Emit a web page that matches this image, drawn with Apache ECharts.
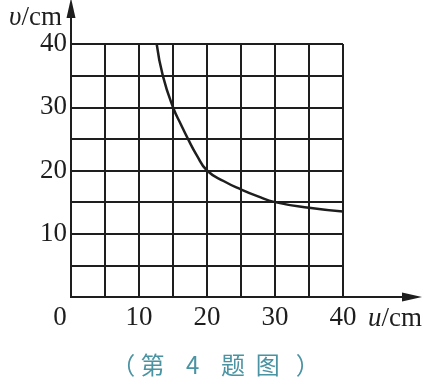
<!DOCTYPE html>
<html>
<head>
<meta charset="utf-8">
<script src="https://cdn.jsdelivr.net/npm/echarts@6/dist/echarts.min.js"></script>
<style>
html,body{margin:0;padding:0;background:#fff;}
#c{width:431px;height:389px;}
</style>
</head>
<body>
<div id="c"></div>
<script>
// data
const uValues = [12.6, 13.5, 15, 16.2, 17.2, 18.5, 20, 22.5, 25, 27.5, 30, 35, 40];
const vValues = [40, 35, 30, 27.2, 25, 22.4, 20, 18.3, 17, 15.9, 15, 14.1, 13.5];
const xTickLabels = [0, 10, 20, 30, 40];
const yTickLabels = [10, 20, 30, 40];
const caption = '（ 第    4    题  图   ）';

const ink = '#1e1e1e';
const serif = '"Liberation Serif", "DejaVu Serif", serif';
const curve = uValues.map((u, i) => [u, vValues[i]]);

const chart = echarts.init(document.getElementById('c'), null, {renderer: 'canvas'});
chart.setOption({
  animation: false,
  backgroundColor: '#fff',
  grid: [
    {left: 71, right: 88, top: 44, bottom: 92},
    {left: 71, right: 19, top: 8, bottom: 92}
  ],
  xAxis: [
    {
      gridIndex: 0, type: 'value', min: 0, max: 40, interval: 5,
      axisLine: {show: true, lineStyle: {color: ink, width: 2}},
      axisTick: {show: false},
      splitLine: {show: true, lineStyle: {color: ink, width: 2}},
      axisLabel: {
        margin: 7, color: ink, fontFamily: serif, fontSize: 27,
        formatter: v => v === 0 ? '{o|0}' : (xTickLabels.includes(v) ? String(v) : ''),
        rich: {o: {fontFamily: serif, fontSize: 27, color: ink, padding: [0, 22, 0, 0]}}
      },
      name: '{i|u}/cm', nameLocation: 'end', nameGap: 25,
      nameTextStyle: {
        align: 'left', verticalAlign: 'top', padding: [8, 0, 0, 0],
        color: ink, fontFamily: serif, fontSize: 27,
        rich: {i: {fontStyle: 'italic', fontFamily: serif, fontSize: 27, color: ink}}
      }
    },
    {
      gridIndex: 1, type: 'value', min: 0, max: 50.1,
      axisLine: {show: true, symbol: ['none', 'triangle'], symbolSize: [9, 20], lineStyle: {color: ink, width: 2}},
      axisTick: {show: false}, axisLabel: {show: false}, splitLine: {show: false}
    }
  ],
  yAxis: [
    {
      gridIndex: 0, type: 'value', min: 0, max: 40, interval: 5,
      axisLine: {show: true, lineStyle: {color: ink, width: 2}},
      axisTick: {show: false},
      splitLine: {show: true, lineStyle: {color: ink, width: 2}},
      axisLabel: {
        margin: 4, color: ink, fontFamily: serif, fontSize: 27,
        formatter: v => yTickLabels.includes(v) ? String(v) : ''
      }
    },
    {
      gridIndex: 1, type: 'value', min: 0, max: 45.7,
      axisLine: {show: true, symbol: ['none', 'triangle'], symbolSize: [9, 20], lineStyle: {color: ink, width: 2}},
      axisTick: {show: false}, axisLabel: {show: false}, splitLine: {show: false},
      name: '{i|υ}/cm', nameLocation: 'end', nameGap: -10,
      nameTextStyle: {
        align: 'right', verticalAlign: 'middle', padding: [0, 9, 0, 0],
        color: ink, fontFamily: serif, fontSize: 27,
        rich: {i: {fontStyle: 'italic', fontFamily: serif, fontSize: 27, color: ink}}
      }
    }
  ],
  title: {
    text: caption, left: 'center', bottom: 7,
    textStyle: {color: '#4a93a3', fontFamily: '"Noto Sans CJK SC", sans-serif', fontSize: 24, fontWeight: 'normal'}
  },
  series: [{
    type: 'line', xAxisIndex: 0, yAxisIndex: 0,
    data: curve, smooth: 0.5, showSymbol: false, symbol: 'none',
    lineStyle: {color: ink, width: 2.5}
  }]
});
</script>
</body>
</html>
